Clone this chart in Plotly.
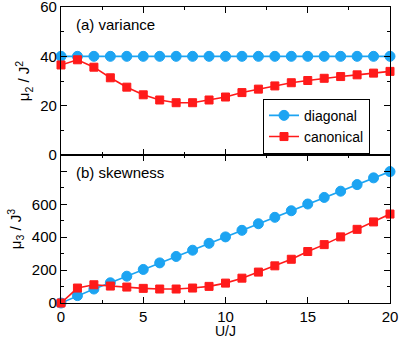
import plotly.graph_objects as go
from plotly.subplots import make_subplots

u = list(range(21))

# (a) variance
var_diag = [40] * 21
var_can = [36.5, 38.6, 35.6, 31.3, 27.5, 24.4, 22.3, 21.2, 21.2, 22.3, 23.5,
           25.3, 26.7, 28.0, 29.3, 30.2, 31.1, 31.8, 32.5, 33.2, 33.9]

# (b) skewness
skew_diag = [0, 45, 85, 123, 163, 204, 244, 283, 321, 363, 402,
             442, 482, 521, 561, 602, 642, 680, 720, 761, 799]
skew_can = [0, 91, 111, 103, 97, 89, 85, 85, 91, 101, 121,
            151, 188, 226, 266, 313, 355, 402, 448, 493, 541]

blue = '#1ca4f2'
red = '#ff1a1a'

fig = make_subplots(rows=2, cols=1, shared_xaxes=True, vertical_spacing=0)

def add(y, row, color, symbol, size, name, show):
    fig.add_trace(go.Scatter(x=u, y=y, mode='lines+markers', name=name,
                             showlegend=show,
                             line=dict(color=color, width=1.6),
                             marker=dict(symbol=symbol, size=size, color=color,
                                         line=dict(width=1, color=color)),
                             cliponaxis=False),
                  row=row, col=1)

add(var_diag, 1, blue, 'circle', 10, 'diagonal', True)
add(var_can, 1, red, 'square', 8, 'canonical', True)
add(skew_diag, 2, blue, 'circle', 10, 'diagonal', False)
add(skew_can, 2, red, 'square', 8, 'canonical', False)

ax = dict(showline=True, linecolor='black', linewidth=1.2, mirror='allticks',
          ticks='inside', ticklen=6, tickcolor='black', showgrid=False,
          zeroline=False, tickfont=dict(size=15, color='black'),
          ticklabeloverflow='allow', automargin=False)

fig.update_xaxes(**ax, range=[0, 20], dtick=5,
                 minor=dict(ticks='inside', dtick=2.5, ticklen=3, tickcolor='black'))
fig.update_xaxes(showticklabels=False, row=1, col=1)

fig.update_yaxes(**ax)
fig.update_yaxes(range=[0, 60], tickvals=[0, 20, 40, 60],
                 minor=dict(ticks='inside', dtick=10, ticklen=3, tickcolor='black'),
                 title=dict(text='μ<sub>2</sub> / J<sup>2</sup>',
                            font=dict(size=15, color='black'), standoff=6),
                 row=1, col=1)
fig.update_yaxes(range=[0, 900], tickvals=[0, 200, 400, 600, 800],
                 ticktext=['0', '200', '400', '600', ''],
                 minor=dict(ticks='inside', dtick=100, ticklen=3, tickcolor='black'),
                 title=dict(text='μ<sub>3</sub> / J<sup>3</sup>',
                            font=dict(size=15, color='black'), standoff=6),
                 row=2, col=1)

fig.add_annotation(x=0.04, y=0.975, xref='paper', yref='paper', text='(a) variance',
                   showarrow=False, xanchor='left', yanchor='top',
                   font=dict(size=15, color='black'))
fig.add_annotation(x=0.04, y=0.475, xref='paper', yref='paper', text='(b) skewness',
                   showarrow=False, xanchor='left', yanchor='top',
                   font=dict(size=15, color='black'))
# x axis title (placed by hand, axis title overlaps the ticks without automargin)
fig.add_annotation(x=0.5, y=-0.095, xref='paper', yref='paper', text='U/J',
                   showarrow=False, xanchor='center', yanchor='middle',
                   font=dict(size=14, color='black'))

fig.update_layout(width=399, height=338,
                  margin=dict(l=61, r=9, t=7, b=35),
                  paper_bgcolor='white', plot_bgcolor='white',
                  font=dict(family='Liberation Sans, Arial, sans-serif', size=15, color='black'),
                  legend=dict(x=0.614, y=0.69, xanchor='left', yanchor='top',
                              bgcolor='white', bordercolor='black', borderwidth=1,
                              font=dict(size=14), tracegroupgap=0,
                              itemwidth=30))

# page body has an 8px default margin, drop it so the figure sits at 0,0
fig.write_html('out.html', config={'displayModeBar': False},
               post_script="document.body.style.margin='0';")
